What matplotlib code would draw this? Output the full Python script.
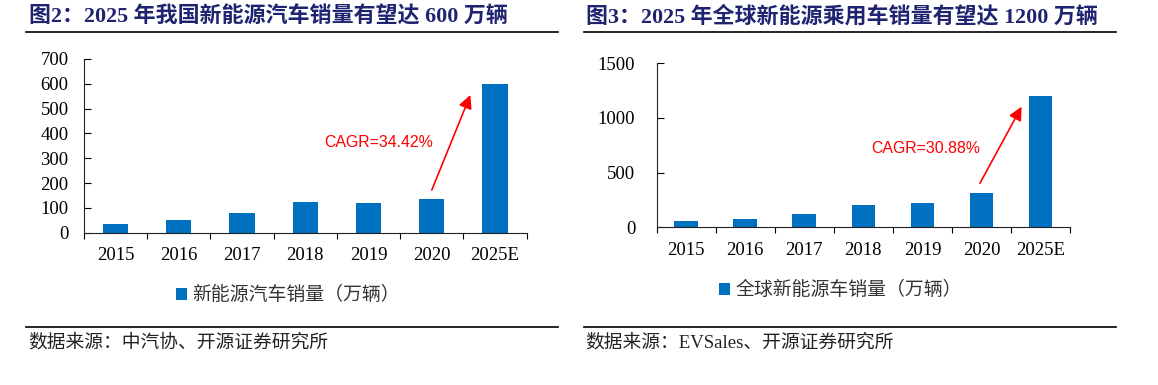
import numpy as np
import matplotlib
matplotlib.use("Agg")
import matplotlib.pyplot as plt
from matplotlib.lines import Line2D

# 数据
years = ["2015", "2016", "2017", "2018", "2019", "2020", "2025E"]
china_sales = [35, 51, 78, 125, 120, 136, 600]
global_sales = [57, 76, 125, 204, 222, 314, 1200]

title_left = "图2：2025 年我国新能源汽车销量有望达 600 万辆"
title_right = "图3：2025 年全球新能源乘用车销量有望达 1200 万辆"
legend_left = "新能源汽车销量（万辆）"
legend_right = "全球新能源车销量（万辆）"
source_left = "数据来源：中汽协、开源证券研究所"
source_right = "数据来源：EVSales、开源证券研究所"
cagr_left = "CAGR=34.42%"
cagr_right = "CAGR=30.88%"

SERIF = ["Liberation Serif", "Noto Sans CJK SC"]
CJK = ["Noto Sans CJK SC", "Liberation Serif"]
BLUE = "#0070C0"
NAVY = "#1F2470"

fig = plt.figure(figsize=(11.58, 3.85), dpi=100)


def draw_panel(rect, values, ylim, yticks, ypad, legend_text, legend_xy,
               cagr, cagr_xy, arrow_start, arrow_end):
    ax = fig.add_axes(rect)
    x = np.arange(len(years))
    bars = ax.bar(x, values, width=0.4, color=BLUE, label=legend_text, zorder=2)
    ax.set_xlim(-0.5, len(years) - 0.5)
    ax.set_ylim(*ylim)
    ax.set_yticks(yticks)
    ax.set_xticks(x)
    ax.set_xticklabels(years, family=SERIF, fontsize=13.5)
    for lab in ax.get_yticklabels():
        lab.set_family(SERIF)
        lab.set_fontsize(13.5)
    ax.set_xticks(np.arange(-0.5, len(years), 1), minor=True)
    ax.tick_params(axis="x", which="major", length=0, pad=10.5)
    ax.tick_params(axis="x", which="minor", length=4, direction="out", width=0.8)
    ax.tick_params(axis="y", length=5, direction="in", width=0.8, pad=ypad)
    for s in ["top", "right"]:
        ax.spines[s].set_visible(False)
    for s in ["left", "bottom"]:
        ax.spines[s].set_linewidth(0.8)
        ax.spines[s].set_color("#222222")

    ax.annotate("", xy=arrow_end, xytext=arrow_start,
                arrowprops=dict(arrowstyle="-|>", color="red", lw=1.2,
                                mutation_scale=20, shrinkA=0, shrinkB=0))
    ax.text(cagr_xy[0], cagr_xy[1], cagr, color="red", fontsize=11.4,
            family="Liberation Sans", ha="center", va="center")

    ax.legend(handles=[bars], loc="center", bbox_to_anchor=legend_xy,
              bbox_transform=fig.transFigure, frameon=False,
              handlelength=0.6, handleheight=0.6, handletextpad=0.3,
              prop=dict(family=CJK, size=13.6), labelcolor="#333333")
    return ax


draw_panel([0.0725, 0.3956, 0.3823, 0.4512], china_sales, (0, 700),
           range(0, 701, 100), 11, legend_left, (0.2487, 0.2338),
           cagr_left, (4.16, 363), (5.0, 172), (5.61, 555))
draw_panel([0.5671, 0.4096, 0.3569, 0.4260], global_sales, (0, 1500),
           range(0, 1501, 500), 15.5, legend_right, (0.7258, 0.2468),
           cagr_right, (4.06, 722), (4.975, 403), (5.68, 1103))

# 标题、分隔线与来源
fig.text(0.025, 0.9567, title_left, family=SERIF, fontsize=15.8,
         fontweight="bold", color=NAVY, va="center")
fig.text(0.5057, 0.9567, title_right, family=SERIF, fontsize=15.8,
         fontweight="bold", color=NAVY, va="center")

for x0, x1 in [(0.0225, 0.4819), (0.5043, 0.9637)]:
    fig.add_artist(Line2D([x0, x1], [0.916, 0.916], color="black", lw=1.2))
    fig.add_artist(Line2D([x0, x1], [0.1514, 0.1514], color="black", lw=1.2))

fig.text(0.0242, 0.109, source_left, family=SERIF, fontsize=13.5,
         color="#222222", va="center")
fig.text(0.5057, 0.109, source_right, family=SERIF, fontsize=13.5,
         color="#222222", va="center")

fig.savefig("out.png", dpi=100)
